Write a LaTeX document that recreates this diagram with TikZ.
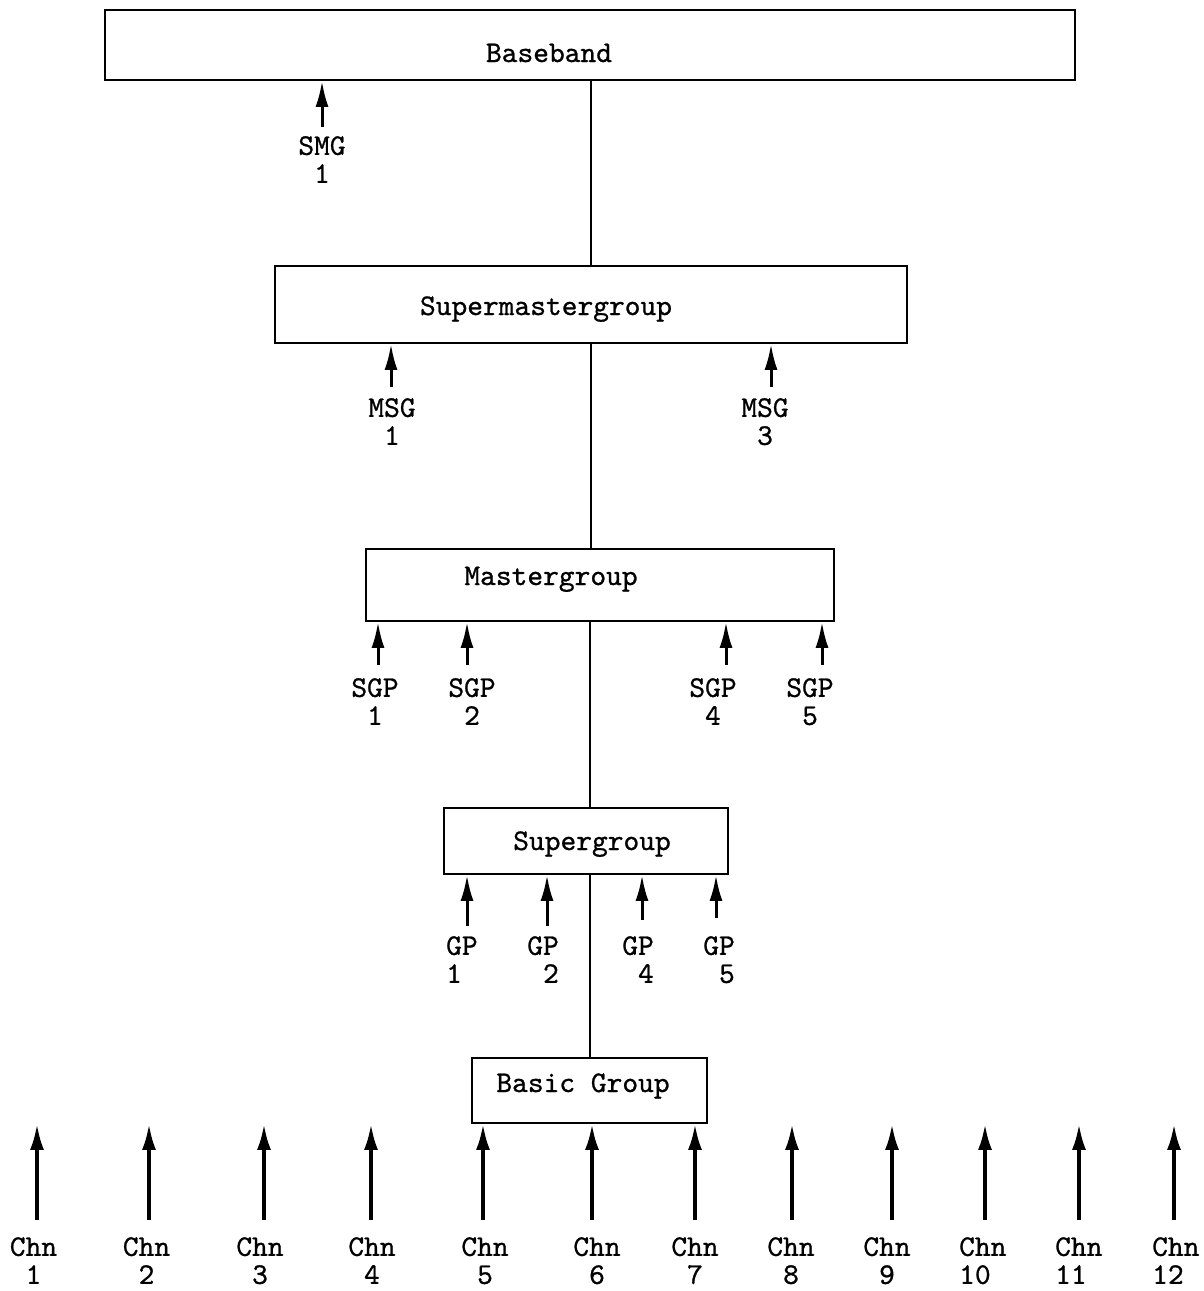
\documentclass[tikz,border=0pt]{standalone}
\usepackage{fontspec}
\newfontfamily\twfont{lmmono10-regular.otf}[FakeBold=0.8]
\usetikzlibrary{arrows.meta}
\begin{document}
\begin{tikzpicture}[x=1pt,y=-1pt,
  box/.style={draw,line width=1.8pt,inner sep=0pt},
  txt/.style={font=\fontsize{30}{28}\selectfont\twfont,inner sep=0pt,anchor=base},
  lbl/.style={font=\fontsize{30}{28}\selectfont\twfont,inner sep=0pt,anchor=north,align=center},
  feed/.style={-{Latex[length=26pt,width=13pt]},line width=3pt},
  chn/.style={-{Latex[length=26pt,width=14pt]},line width=3.6pt},
  link/.style={line width=2pt}]
\useasboundingbox[fill=white] (0,0) rectangle (1204,1291);

% boxes
\node[box,minimum width=970pt,minimum height=70pt] (bb) at (590,45) {};
\node[box,minimum width=632pt,minimum height=77pt] (smg) at (591,304.5) {};
\node[box,minimum width=468pt,minimum height=72pt] (mg) at (600,585) {};
\node[box,minimum width=284pt,minimum height=66pt] (sg) at (586,841) {};
\node[box,minimum width=235pt,minimum height=65pt] (bg) at (589.5,1090.5) {};

\node[txt] (bbt) at (549,62) {Baseband};
\node[txt] (smgt) at (546,315) {Supermastergroup};
\node[txt] (mgt) at (551,585) {Mastergroup};
\node[txt] (sgt) at (592,850) {Supergroup};
\node[txt] (bgt) at (583,1092) {Basic Group};

% links
\draw[link] (smg.north) -- (smg.north |- bb.south);
\draw[link] (smg.south) -- (smg.south |- mg.north);
\draw[link] ([xshift=4pt]sg.north) -- ([xshift=4pt]sg.north |- mg.south);
\draw[link] (bg.north) -- (bg.north |- sg.south);

% SMG
\coordinate (a1) at (322,127);
\draw[feed] (a1) -- (a1 |- bb.south);
\node[lbl] (l1) at (322,136) {SMG\\1};

% MSG
\coordinate (m1) at (391,387);
\coordinate (m3) at (771,387);
\draw[feed] (m1) -- (m1 |- smg.south);
\draw[feed] (m3) -- (m3 |- smg.south);
\node[lbl] (lm1) at (392,398) {MSG\\1};
\node[lbl] (lm3) at (765,398) {MSG\\3};

% SGP
\foreach \ax/\lx/\n in {378/375/1,467/472/2,726/713/4,822/810/5}{
  \coordinate (p\n) at (\ax,665);
  \draw[feed] (p\n) -- (p\n |- mg.south);
  \node[lbl] (lp\n) at (\lx,678) {SGP\\\n};
}

% GP
\foreach \ax/\bot/\n in {467/926/1,547/926/2,642/920/4,716/918/5}{
  \coordinate (g\n) at (\ax,\bot);
  \draw[feed] (g\n) -- (g\n |- sg.south);
}
\node[lbl,anchor=north west,align=left] (lg1) at (446,936) {GP\\1};
\node[lbl,anchor=north east,align=right] (lg2) at (559,936) {GP\\2};
\node[lbl,anchor=north east,align=right] (lg4) at (654,936) {GP\\4};
\node[lbl,anchor=north east,align=right] (lg5) at (735,936) {GP\\5};

% channels
\foreach \ax/\n in {37/1,149/2,264/3,371/4,483/5,592/6,695/7,792/8,892/9,985/10,1079/11,1174/12}{
  \coordinate (c\n) at (\ax,1220);
  \draw[chn] (c\n) -- (c\n |- bg.south);
}
\foreach \lx/\n in {33.5/1,146.5/2,260/3,372/4,485/5,597/6,695/7,791/8,887/9}{
  \node[lbl] (lc\n) at (\lx,1237) {Chn\\\n};
}
\foreach \lx/\n in {959/10,1055/11,1152/12}{
  \node[lbl,anchor=north west,align=left] (lc\n) at (\lx,1237) {Chn\\\n};
}
\end{tikzpicture}
\end{document}
